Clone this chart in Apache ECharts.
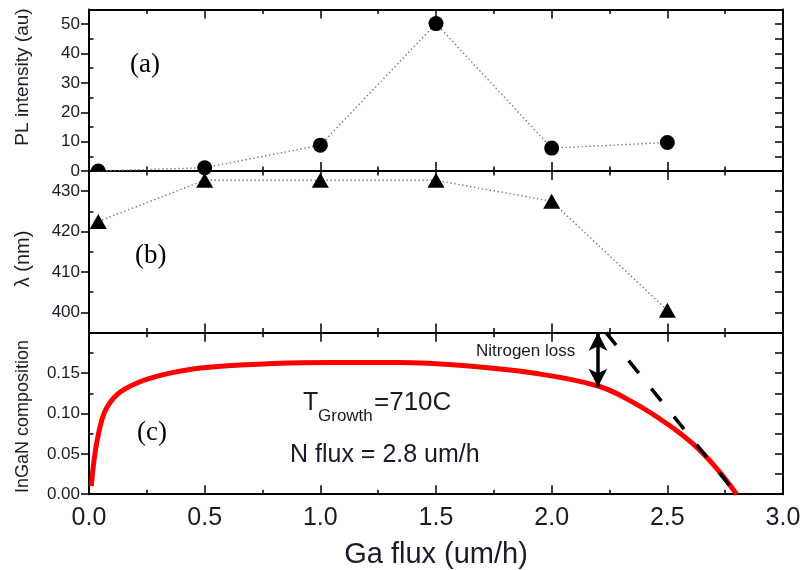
<!DOCTYPE html>
<html>
<head>
<meta charset="utf-8">
<script src="https://cdn.jsdelivr.net/npm/echarts@6/dist/echarts.min.js"></script>
<style>html,body{margin:0;padding:0;background:#fff}#c{width:803px;height:570px}</style>
</head>
<body>
<div id="c"></div>
<script>
// ---------- data ----------
const plX = [0.04, 0.5, 1.0, 1.5, 2.0, 2.5];
const plY = [0, 1.1, 8.8, 50.2, 7.8, 9.7];
const lamX = [0.04, 0.5, 1.0, 1.5, 2.0, 2.5];
const lamY = [422.5, 432.7, 432.7, 432.7, 427.5, 400.5];
const compX = [0.01, 0.02, 0.03, 0.045, 0.065, 0.09, 0.12, 0.16, 0.21, 0.27, 0.35, 0.45, 0.6, 0.8, 1.05, 1.34, 1.63, 1.92, 2.2, 2.35, 2.5, 2.61, 2.71, 2.8];
const compY = [0.010, 0.038, 0.058, 0.080, 0.100, 0.113, 0.123, 0.131, 0.138, 0.144, 0.150, 0.155, 0.159, 0.162, 0.163, 0.163, 0.159, 0.150, 0.134, 0.114, 0.087, 0.0625, 0.033, 0.0];
const limitX = [2.235, 2.8];
const limitY = [0.2, 0.0];
const arrowX = [2.2, 2.2];
const arrowY = [0.2, 0.133];

// ---------- ticks ----------
const xRange = [0, 3];
const xStep = 0.5;
const plRange = [0, 55];
const plTicks = [0, 10, 20, 30, 40, 50];
const plMinor = [5, 15, 25, 35, 45];
const lamRange = [395, 435];
const lamTicks = [400, 410, 420, 430];
const lamMinor = [405, 415, 425];
const compRange = [0, 0.2];
const compTicks = [0, 0.05, 0.10, 0.15];
const compMinor = [0.025, 0.075, 0.125, 0.175];

const SANS = 'Liberation Sans, Arial, sans-serif';
const SERIF = 'Liberation Serif, Times New Roman, serif';
const TXT = '#1a1a2a';

const pairs = (xs, ys) => xs.map((x, i) => [x, ys[i]]);

const gridTop = [9.5, 171, 332.7];
const gridH = 161.5;

function xAx(gi, pos, labels) {
  return {
    type: 'value', gridIndex: gi, position: pos, min: xRange[0], max: xRange[1], interval: xStep,
    axisLine: { show: true, onZero: false, lineStyle: { color: '#000', width: 2 } },
    axisTick: { show: true, inside: true, length: 9, lineStyle: { color: '#000', width: 1.5 } },
    minorTick: { show: true, splitNumber: 2, length: 4.5, lineStyle: { color: '#000', width: 1.5 } },
    splitLine: { show: false }, minorSplitLine: { show: false },
    axisLabel: { show: labels, margin: 11, fontSize: 25, fontFamily: SANS, color: TXT,
      formatter: v => v.toFixed(1) },
    name: labels ? 'Ga flux (um/h)' : '',
    nameLocation: 'middle', nameGap: 46,
    nameTextStyle: { fontSize: 29, fontFamily: SANS, color: TXT }
  };
}
function yMain(gi, range, ticks, fmt) {
  return {
    type: 'value', gridIndex: gi, position: 'left', min: range[0], max: range[1],
    axisLine: { show: true, onZero: false, lineStyle: { color: '#000', width: 2 } },
    axisTick: { show: true, inside: false, length: 8, customValues: ticks, lineStyle: { color: '#000', width: 1.5 } },
    axisLabel: { show: true, customValues: ticks, margin: 9, fontSize: 17, fontFamily: SANS, color: TXT, formatter: fmt },
    splitLine: { show: false }
  };
}
function yMinor(gi, range, minor) {
  return {
    type: 'value', gridIndex: gi, position: 'left', min: range[0], max: range[1],
    axisLine: { show: false, onZero: false },
    axisTick: { show: true, inside: true, length: 4.5, customValues: minor, lineStyle: { color: '#000', width: 1.5 } },
    axisLabel: { show: false }, splitLine: { show: false }
  };
}
function yRight(gi, range, all) {
  return {
    type: 'value', gridIndex: gi, position: 'right', min: range[0], max: range[1],
    axisLine: { show: true, onZero: false, lineStyle: { color: '#000', width: 2 } },
    axisTick: { show: true, inside: true, length: 8, customValues: all, lineStyle: { color: '#000', width: 1.5 } },
    axisLabel: { show: false }, splitLine: { show: false }
  };
}
const allSorted = (a, b) => a.concat(b).sort((p, q) => p - q);

const dotted = { color: '#777', width: 1.4, type: [1.4, 2.6] };

const plData = pairs(plX, plY).map(p => p[1] <= plRange[0]
  ? { value: p, symbol: 'path://M0,10 A10,10 0 0 1 20,10 Z', symbolSize: [15, 7.5], symbolOffset: [0, '-50%'] }
  : { value: p });

const option = {
  animation: false,
  grid: gridTop.map(t => ({ left: 89, right: 20, top: t, height: gridH, outerBoundsMode: 'none', containLabel: false })),
  xAxis: [xAx(0, 'bottom', false), xAx(0, 'top', false), xAx(1, 'bottom', false), xAx(1, 'top', false), xAx(2, 'bottom', true), xAx(2, 'top', false)],
  yAxis: [
    yMain(0, plRange, plTicks, v => String(v)), yMinor(0, plRange, plMinor), yRight(0, plRange, allSorted(plTicks.slice(1), plMinor)),
    yMain(1, lamRange, lamTicks, v => String(v)), yMinor(1, lamRange, lamMinor), yRight(1, lamRange, allSorted(lamTicks, lamMinor)),
    yMain(2, compRange, compTicks, v => v.toFixed(2)), yMinor(2, compRange, compMinor), yRight(2, compRange, allSorted(compTicks.slice(1), compMinor))
  ],
  series: [
    { type: 'line', xAxisIndex: 0, yAxisIndex: 0, data: plData, symbol: 'circle', symbolSize: 15,
      itemStyle: { color: '#000' }, lineStyle: dotted, z: 3 },
    { type: 'line', xAxisIndex: 2, yAxisIndex: 3, data: pairs(lamX, lamY), symbol: 'triangle', symbolSize: [17, 15],
      itemStyle: { color: '#000' }, lineStyle: dotted, z: 3 },
    { type: 'line', xAxisIndex: 4, yAxisIndex: 6, data: pairs(compX, compY), showSymbol: false, symbol: 'none', smooth: 0.4,
      lineStyle: { color: '#ff0000', width: 5 }, z: 3,
      markLine: { silent: true, animation: false, symbol: ['arrow', 'arrow'], symbolSize: [14, 18],
        lineStyle: { color: '#000', width: 3.5, type: 'solid' }, label: { show: false },
        data: [[{ coord: [arrowX[0], arrowY[0]] }, { coord: [arrowX[1], arrowY[1]] }]] } },
    { type: 'line', xAxisIndex: 4, yAxisIndex: 6, data: pairs(limitX, limitY), showSymbol: false, symbol: 'none',
      lineStyle: { color: '#000', width: 3.5, type: [16, 20] }, z: 4 }
  ],
  graphic: [
    { type: 'text', x: 23, y: 77, rotation: Math.PI / 2, style: { text: 'PL intensity (au)', font: '19px ' + SANS, fill: TXT, align: 'center', verticalAlign: 'middle', textAlign: 'center', textVerticalAlign: 'middle' } },
    { type: 'text', x: 23, y: 259, rotation: Math.PI / 2, style: { text: 'λ (nm)', font: '20px ' + SANS, fill: TXT, align: 'center', verticalAlign: 'middle', textAlign: 'center', textVerticalAlign: 'middle' } },
    { type: 'text', x: 23, y: 416.5, rotation: Math.PI / 2, style: { text: 'InGaN composition', font: '18px ' + SANS, fill: TXT, align: 'center', verticalAlign: 'middle', textAlign: 'center', textVerticalAlign: 'middle' } },
    { type: 'text', x: 130, y: 64.5, style: { text: '(a)', font: '27px ' + SERIF, fill: '#000', align: 'left', verticalAlign: 'middle', textAlign: 'left', textVerticalAlign: 'middle' } },
    { type: 'text', x: 135, y: 256, style: { text: '(b)', font: '27px ' + SERIF, fill: '#000', align: 'left', verticalAlign: 'middle', textAlign: 'left', textVerticalAlign: 'middle' } },
    { type: 'text', x: 137, y: 432.5, style: { text: '(c)', font: '27px ' + SERIF, fill: '#000', align: 'left', verticalAlign: 'middle', textAlign: 'left', textVerticalAlign: 'middle' } },
    { type: 'text', x: 303, y: 403, style: { text: 'T', font: '25px ' + SANS, fill: TXT, align: 'left', verticalAlign: 'middle', textAlign: 'left', textVerticalAlign: 'middle' } },
    { type: 'text', x: 318, y: 416, style: { text: 'Growth', font: '17px ' + SANS, fill: TXT, align: 'left', verticalAlign: 'middle', textAlign: 'left', textVerticalAlign: 'middle' } },
    { type: 'text', x: 374, y: 403, style: { text: '=710C', font: '26px ' + SANS, fill: TXT, align: 'left', verticalAlign: 'middle', textAlign: 'left', textVerticalAlign: 'middle' } },
    { type: 'text', x: 290, y: 455.5, style: { text: 'N flux = 2.8 um/h', font: '25px ' + SANS, fill: TXT, align: 'left', verticalAlign: 'middle', textAlign: 'left', textVerticalAlign: 'middle' } },
    { type: 'text', x: 476, y: 351.5, style: { text: 'Nitrogen loss', font: '17px ' + SANS, fill: TXT, align: 'left', verticalAlign: 'middle', textAlign: 'left', textVerticalAlign: 'middle' } }
  ]
};
const chart = echarts.init(document.getElementById('c'), null, { renderer: 'canvas' });
chart.setOption(option);
</script>
</body>
</html>
